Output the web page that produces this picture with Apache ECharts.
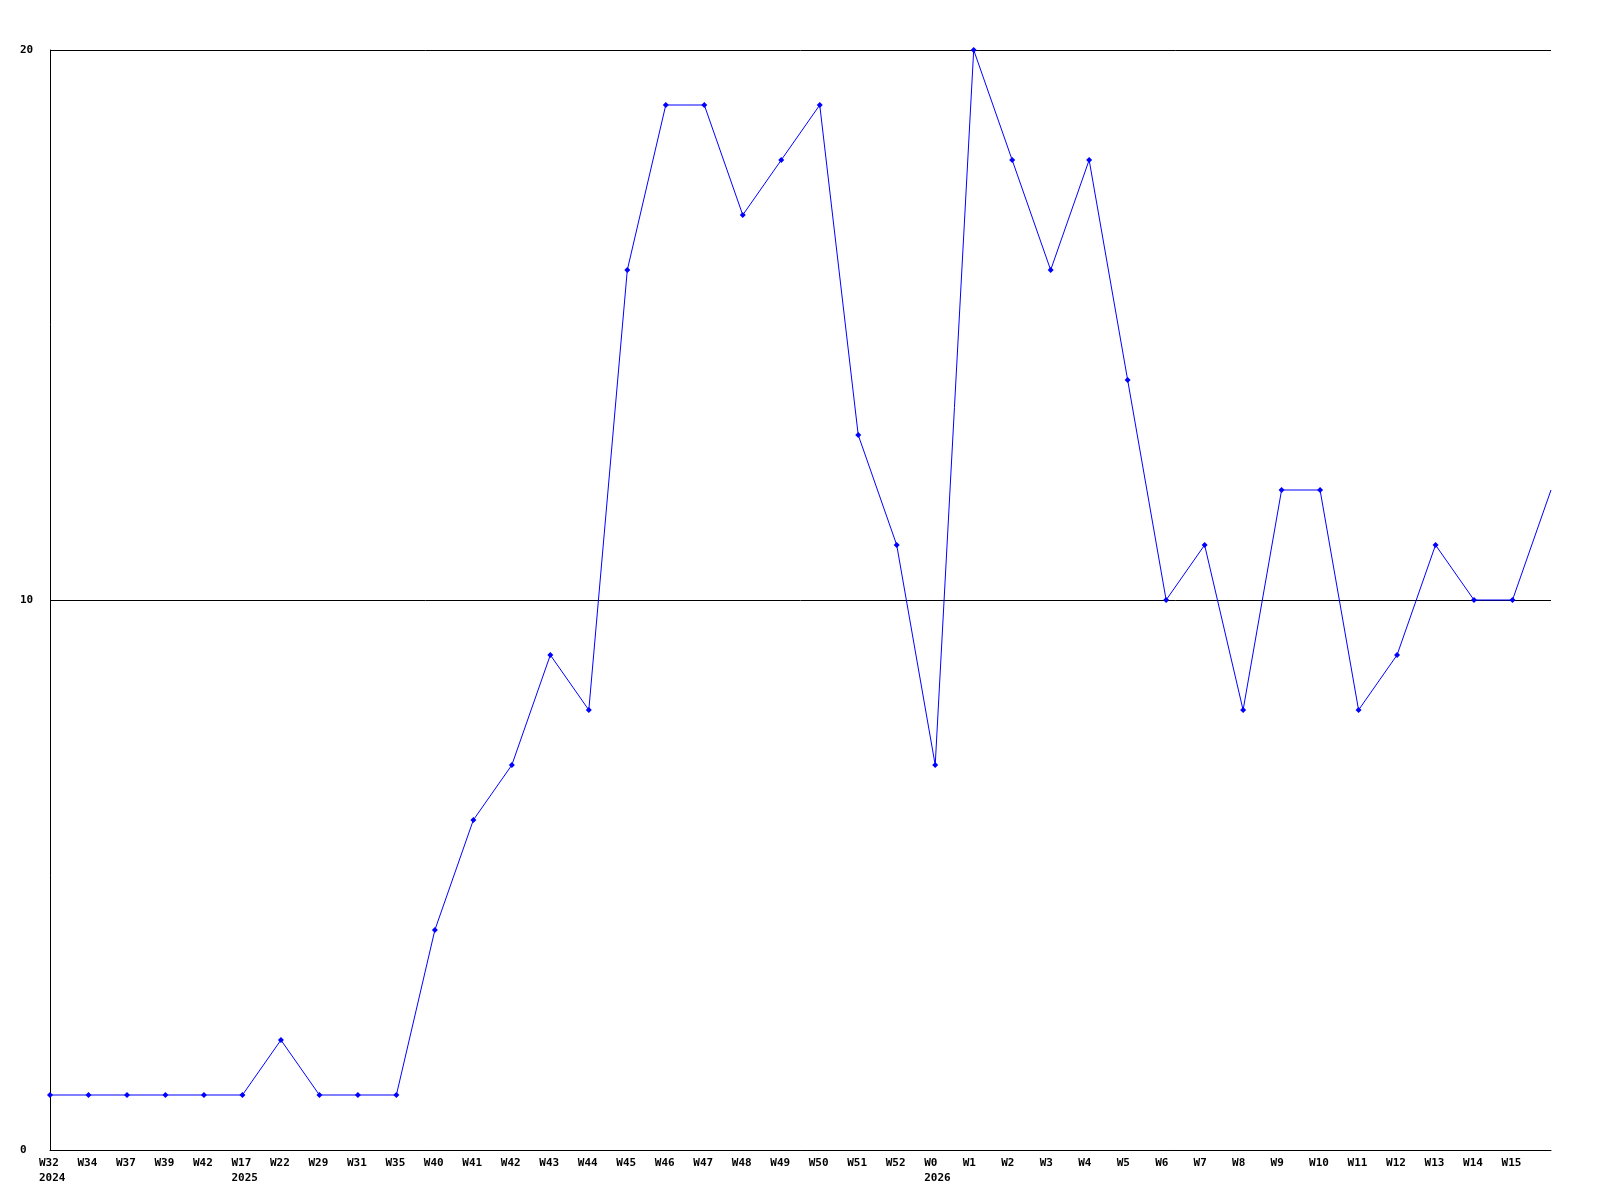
<!DOCTYPE html>
<html>
<head>
<meta charset="utf-8">
<script src="https://cdn.jsdelivr.net/npm/echarts@6/dist/echarts.min.js"></script>
<style>
  html, body { margin: 0; padding: 0; background: #ffffff; }
  #grafico { width: 1600px; height: 1200px; }
</style>
</head>
<body>
<div id="grafico"></div>
<script>
// semanas (a última ponta não tem rótulo)
const semanas = ['W32', 'W34', 'W37', 'W39', 'W42', 'W17', 'W22', 'W29', 'W31', 'W35',
  'W40', 'W41', 'W42', 'W43', 'W44', 'W45', 'W46', 'W47', 'W48', 'W49',
  'W50', 'W51', 'W52', 'W0', 'W1', 'W2', 'W3', 'W4', 'W5', 'W6',
  'W7', 'W8', 'W9', 'W10', 'W11', 'W12', 'W13', 'W14', 'W15', ''];
const anos = { 0: '2024', 5: '2025', 23: '2026' };
const valores = [1, 1, 1, 1, 1, 1, 2, 1, 1, 1,
  4, 6, 7, 9, 8, 16, 19, 19, 17, 18,
  19, 13, 11, 7, 20, 18, 16, 18, 14, 10,
  11, 8, 12, 12, 8, 9, 11, 10, 10, 12];
const ticksY = [0, 10, 20];

const fonte = { fontFamily: 'DejaVu Sans Mono', fontWeight: 'bold', fontSize: 11, color: '#000000' };

// o último ponto não tem marcador
const pontos = valores.map((v, i) => (i === valores.length - 1 ? { value: v, symbol: 'none' } : v));

const chart = echarts.init(document.getElementById('grafico'));
chart.setOption({
  animation: false,
  backgroundColor: '#ffffff',
  grid: { left: 50, right: 49, top: 50, bottom: 50, containLabel: false },
  xAxis: {
    type: 'category',
    boundaryGap: false,
    data: semanas,
    axisLine: { lineStyle: { color: '#000000', width: 1 } },
    axisTick: { show: false },
    axisLabel: {
      ...fonte,
      interval: 0,
      margin: 6,
      verticalAlign: 'top',
      formatter: (v, i) => (anos[i] ? `{w|${v}}\n{w|${anos[i]}}` : `{w|${v}}`),
      rich: {
        w: { ...fonte, width: 22, align: 'left', lineHeight: 15 },
      },
    },
    splitLine: { show: false },
  },
  yAxis: {
    type: 'value',
    min: ticksY[0],
    max: ticksY[ticksY.length - 1],
    interval: 10,
    axisLine: { show: true, lineStyle: { color: '#000000', width: 1 } },
    axisTick: { show: false },
    axisLabel: { ...fonte, margin: 30, align: 'left' },
    splitLine: { show: true, lineStyle: { color: '#000000', width: 1 } },
  },
  series: [
    {
      type: 'line',
      data: pontos,
      symbol: 'diamond',
      symbolSize: 6,
      showAllSymbol: true,
      lineStyle: { color: '#0000ff', width: 1 },
      itemStyle: { color: '#0000ff' },
    },
  ],
});
</script>
</body>
</html>
